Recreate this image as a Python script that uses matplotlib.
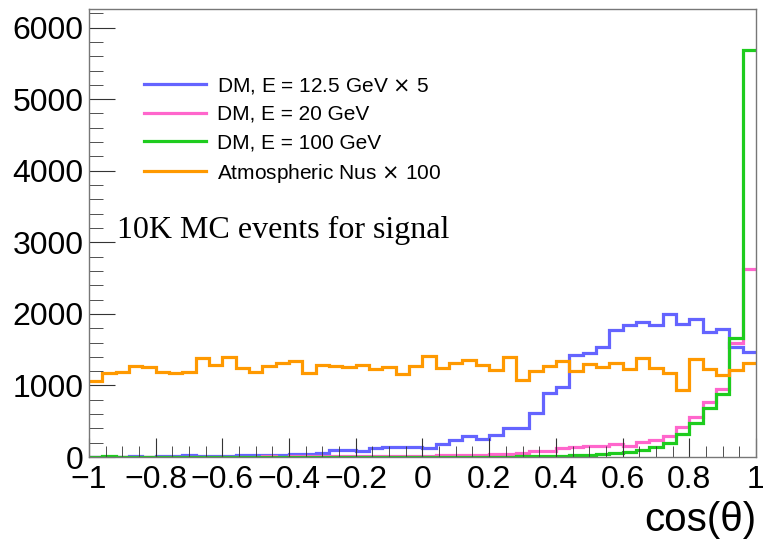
import numpy as np
import matplotlib.pyplot as plt
from matplotlib.ticker import MultipleLocator

plt.rcParams['font.family'] = ['Liberation Sans', 'DejaVu Sans']

# 50 bins of cos(theta) between -1 and 1
bin_edges = np.linspace(-1, 1, 51)

dm_12p5_x5 = [5, 3, 5, 8, 5, 10, 20, 22, 12, 15,
              20, 22, 25, 28, 30, 37, 37, 61, 98, 98,
              84, 121, 144, 144, 144, 121, 177, 238, 294, 252,
              308, 401, 401, 611, 891, 983, 1427, 1450, 1543, 1776,
              1846, 1884, 1846, 2000, 1860, 1930, 1753, 1786, 1543, 1464]
dm_20 = [3, 2, 3, 4, 3, 5, 4, 5, 6, 5,
         6, 7, 6, 8, 7, 8, 9, 10, 10, 12,
         12, 14, 15, 16, 18, 20, 22, 25, 30, 35,
         40, 45, 56, 89, 89, 120, 144, 150, 154, 182,
         158, 214, 238, 294, 424, 555, 765, 947, 1599, 2630]
dm_100 = [3, 8, 2, 7, 2, 2, 2, 2, 2, 2,
          2, 2, 2, 2, 2, 2, 2, 2, 2, 2,
          3, 3, 3, 3, 3, 4, 4, 4, 5, 5,
          6, 6, 8, 10, 15, 18, 22, 30, 42, 61,
          75, 98, 144, 191, 322, 480, 681, 881, 1660, 5690]
atm_x100 = [1067, 1170, 1193, 1273, 1254, 1184, 1170, 1193, 1380, 1287,
            1403, 1249, 1182, 1277, 1310, 1343, 1179, 1287, 1273, 1254,
            1287, 1231, 1263, 1161, 1273, 1408, 1249, 1310, 1357, 1287,
            1217, 1394, 1077, 1203, 1277, 1347, 1203, 1301, 1263, 1310,
            1226, 1389, 1240, 1179, 937, 1371, 1226, 1147, 1217, 1310]

labels = ['DM, E = 12.5 GeV $\\times$ 5', 'DM, E = 20 GeV',
          'DM, E = 100 GeV', 'Atmospheric Nus $\\times$ 100']
colors = ['#6464ff', '#ff66cc', '#1ecc1e', '#ff9900']
xtick_labels = ['\u22121', '\u22120.8', '\u22120.6', '\u22120.4', '\u22120.2',
                '0', '0.2', '0.4', '0.6', '0.8', '1']

fig = plt.figure(figsize=(7.63, 5.42), dpi=100)
ax = fig.add_axes([0.1166, 0.1568, 0.8742, 0.8266])

for vals, lab, col in zip([dm_12p5_x5, dm_20, dm_100, atm_x100], labels, colors):
    ax.stairs(vals, bin_edges, baseline=None, color=col, lw=2.3, label=lab)

ax.set_xlim(-1, 1)
ax.set_ylim(0, 6260)

ax.set_xticks(np.arange(-1, 1.01, 0.2))
ax.set_xticklabels(xtick_labels)
ax.xaxis.set_minor_locator(MultipleLocator(0.05))
ax.yaxis.set_major_locator(MultipleLocator(1000))
ax.yaxis.set_minor_locator(MultipleLocator(200))
ax.tick_params(axis='both', which='both', direction='in', labelsize=23,
               top=False, right=False, color='#333333')
ax.tick_params(axis='x', which='major', length=14, pad=6)
ax.tick_params(axis='x', which='minor', length=8)
ax.tick_params(axis='y', which='major', length=19, pad=4)
ax.tick_params(axis='y', which='minor', length=10)
for sp in ax.spines.values():
    sp.set_color('#777777')
    sp.set_linewidth(1.0)

ax.set_xlabel('cos(\u03b8)', fontsize=29, loc='right', labelpad=4)

ax.legend(loc='upper left', bbox_to_anchor=(0.07, 0.87), frameon=False,
          fontsize=15, handlelength=3.0, handletextpad=0.5,
          labelspacing=0.45, borderaxespad=0)

ax.text(0.042, 0.489, '10K MC events for signal', transform=ax.transAxes,
        fontsize=23, family=['Liberation Serif', 'DejaVu Serif'])

fig.savefig('out.png', dpi=100)
